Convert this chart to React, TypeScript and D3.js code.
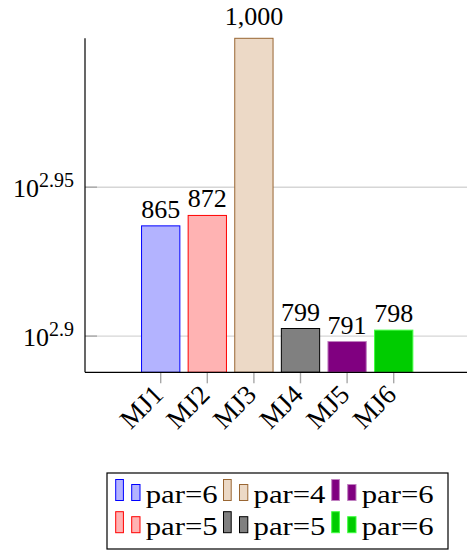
import React from "react";
import * as d3 from "d3";

const categories = ["MJ1", "MJ2", "MJ3", "MJ4", "MJ5", "MJ6"];
const values = [865, 872, 1000, 799, 791, 798];
const legendLabels = ["par=6", "par=5", "par=4", "par=5", "par=6", "par=6"];
const fills = ["#b3b3ff", "#ffb3b3", "#ecd9c6", "#808080", "#800080", "#00cc00"];
const strokes = ["#0000ff", "#ff0000", "#996633", "#000000", "#c080c0", "#40ff40"];
const yTickExps = [2.9, 2.95];

const W = 467;
const H = 552;
const FONT = "'Liberation Serif', serif";

export default function App() {
  const left = 85;
  const right = 469.4;
  const top = 38.3;
  const bottom = 372.3;

  const x = d3
    .scaleBand<string>()
    .domain(categories)
    .range([left, right])
    .paddingInner(0.178)
    .paddingOuter(1.2135);
  const y = d3.scaleLog().domain([772.4, 1000]).range([bottom, top]);
  const fmt = d3.format(",");

  return (
    <svg
      width={W}
      height={H}
      style={{ position: "absolute", left: 0, top: 0, background: "#fff", fontFamily: FONT }}
    >
      {yTickExps.map((e) => (
        <line
          key={"g" + e}
          x1={left}
          x2={W}
          y1={y(Math.pow(10, e))}
          y2={y(Math.pow(10, e))}
          stroke="#d6d6d6"
          strokeWidth={1.4}
        />
      ))}
      {yTickExps.map((e) => (
        <line
          key={"t" + e}
          x1={left}
          x2={left + 12}
          y1={y(Math.pow(10, e))}
          y2={y(Math.pow(10, e))}
          stroke="#a8a8a8"
          strokeWidth={1.4}
        />
      ))}
      {categories.map((c, i) => (
        <rect
          key={c}
          x={x(c)!}
          y={y(values[i])}
          width={x.bandwidth()}
          height={bottom - y(values[i])}
          fill={fills[i]}
          stroke={strokes[i]}
          strokeWidth={1}
        />
      ))}
      {categories.map((c) => (
        <line
          key={"xt" + c}
          x1={x(c)! + x.bandwidth() / 2}
          x2={x(c)! + x.bandwidth() / 2}
          y1={bottom}
          y2={bottom + 11}
          stroke="#a8a8a8"
          strokeWidth={1.4}
        />
      ))}
      <line x1={left} x2={left} y1={top} y2={bottom} stroke="#000" strokeWidth={1.2} />
      <line x1={left} x2={W} y1={bottom} y2={bottom} stroke="#000" strokeWidth={1.2} />
      {yTickExps.map((e) => (
        <text
          key={"yl" + e}
          x={74}
          y={y(Math.pow(10, e)) + 10}
          textAnchor="end"
          fontSize={26}
          fill="#000"
        >
          10
          <tspan fontSize={20} dy={-10}>
            {String(e)}
          </tspan>
        </text>
      ))}
      {categories.map((c, i) => {
        const label = fmt(values[i]);
        const extra = label.includes(",") ? 5 : 0;
        return (
          <text
            key={"v" + c}
            x={x(c)! + x.bandwidth() / 2}
            y={y(values[i]) - 8 - extra}
            textAnchor="middle"
            fontSize={26}
            fill="#000"
          >
            {label}
          </text>
        );
      })}
      {categories.map((c) => {
        const cx = x(c)! + x.bandwidth() / 2;
        return (
          <text
            key={"xl" + c}
            transform={`translate(${cx + 4},${bottom + 24}) rotate(-45)`}
            textAnchor="end"
            fontSize={27}
            fill="#000"
          >
            {c}
          </text>
        );
      })}
      <rect x={107} y={473} width={341} height={76} fill="#fff" stroke="#000" strokeWidth={1.2} />
      {categories.map((c, i) => {
        const col = Math.floor(i / 2);
        const row = i % 2;
        const bx = [115.7, 223.5, 331.7][col];
        const base = [500.5, 532.7][row];
        return (
          <g key={"lg" + c}>
            <rect x={bx} y={base - 21} width={7.7} height={21} fill={fills[i]} stroke={strokes[i]} strokeWidth={1} />
            <rect x={bx + 16} y={base - 16} width={8.3} height={16} fill={fills[i]} stroke={strokes[i]} strokeWidth={1} />
            <text
              x={bx + 30}
              y={base + 2}
              fontSize={26}
              fill="#000"
              textLength={72}
              lengthAdjust="spacingAndGlyphs"
            >
              {legendLabels[i]}
            </text>
          </g>
        );
      })}
    </svg>
  );
}
